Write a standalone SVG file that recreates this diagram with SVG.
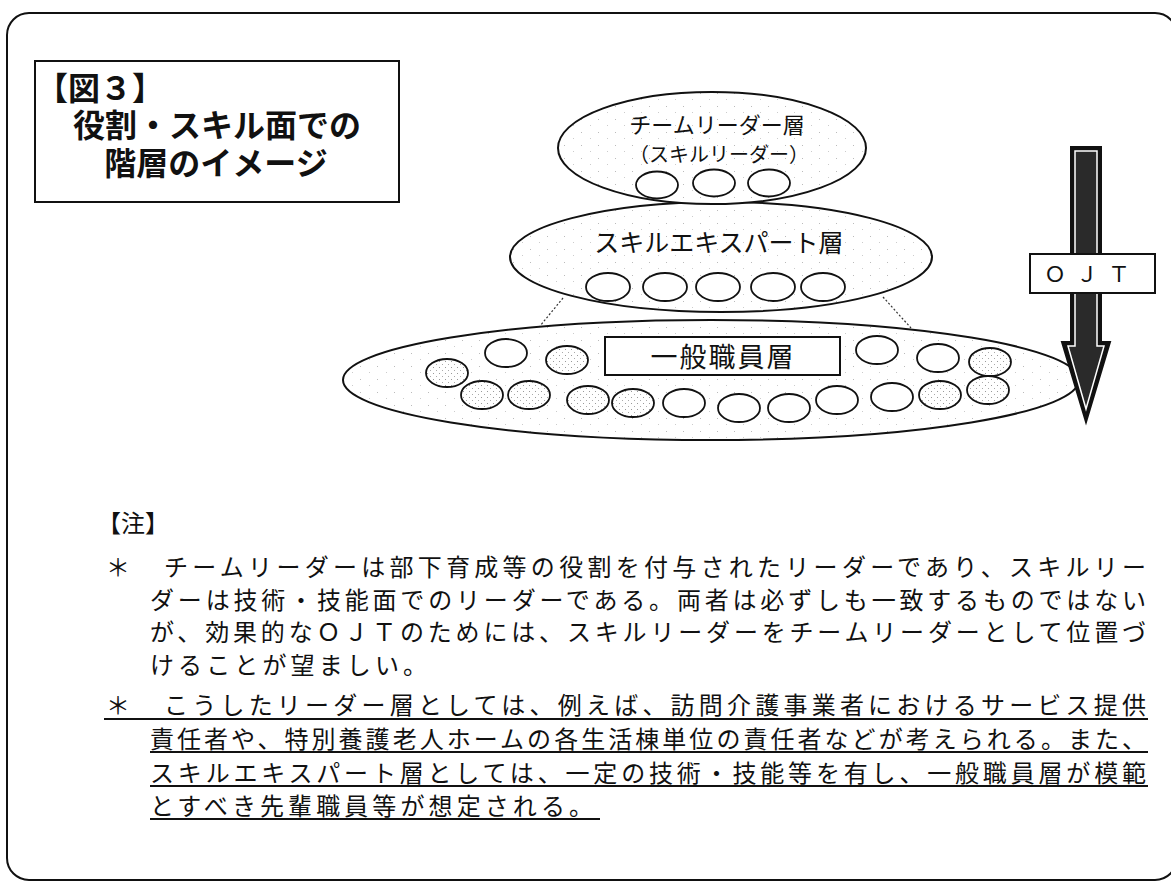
<svg xmlns="http://www.w3.org/2000/svg" width="1171" height="882" viewBox="0 0 1171 882">
<style>
  .jp { font-family: "Noto Sans CJK JP", "Noto Sans", sans-serif; fill: #111; }
  .title { font-size: 32px; font-weight: 700; }
  .note { font-size: 24px; }
  .big { fill: url(#light); stroke: #111; stroke-width: 2; }
  .c { fill: #fff; stroke: #111; stroke-width: 1.8; }
  .cs { fill: url(#stip); stroke: #111; stroke-width: 1.8; }
  .ul { stroke: #111; stroke-width: 2; }
  .dot { stroke: #333; stroke-width: 1.2; stroke-dasharray: 2 2; fill: none; }
</style>
<defs>
  <pattern id="light" width="17" height="13" patternUnits="userSpaceOnUse">
    <rect width="17" height="13" fill="#fff"/>
    <rect x="3" y="2" width="1" height="1" fill="#bbb"/>
    <rect x="12" y="8" width="1" height="1" fill="#ccc"/>
  </pattern>
  <pattern id="stip" width="6" height="6" patternUnits="userSpaceOnUse">
    <rect width="6" height="6" fill="#fff"/>
    <rect x="1" y="1" width="1" height="1" fill="#999"/>
    <rect x="4" y="4" width="1" height="1" fill="#aaa"/>
  </pattern>
</defs>
<rect width="1171" height="882" fill="#fff"/>

<g id="frame">
  <rect x="7" y="13" width="1170" height="867" rx="22" fill="none" stroke="#111" stroke-width="2"/>
</g>

<g id="title">
  <rect x="35" y="61" width="364" height="141" fill="#fff" stroke="#111" stroke-width="2"/>
  <text class="jp title" x="36" y="100">【図３】</text>
  <text class="jp title" x="217" y="137" text-anchor="middle">役割・スキル面での</text>
  <text class="jp title" x="216" y="175" text-anchor="middle">階層のイメージ</text>
</g>

<g id="tier-general">
  <ellipse class="big" cx="711" cy="380" rx="368" ry="60"/>
  <rect x="605" y="337" width="235" height="38" fill="#fff" stroke="#111" stroke-width="2"/>
  <text class="jp" x="723" y="367" font-size="27" text-anchor="middle" letter-spacing="2">一般職員層</text>
  <ellipse class="cs" cx="447" cy="373" rx="21" ry="14"/>
  <ellipse class="c" cx="506" cy="353" rx="21" ry="14"/>
  <ellipse class="cs" cx="567" cy="360" rx="21" ry="14"/>
  <ellipse class="c" cx="877" cy="350" rx="21" ry="14"/>
  <ellipse class="c" cx="938" cy="358" rx="21" ry="14"/>
  <ellipse class="cs" cx="990" cy="362" rx="21" ry="14"/>
  <ellipse class="cs" cx="482" cy="395" rx="21" ry="14"/>
  <ellipse class="cs" cx="529" cy="395" rx="21" ry="14"/>
  <ellipse class="cs" cx="588" cy="400" rx="21" ry="14"/>
  <ellipse class="cs" cx="633" cy="403" rx="21" ry="14"/>
  <ellipse class="c" cx="684" cy="403" rx="21" ry="14"/>
  <ellipse class="c" cx="739" cy="408" rx="21" ry="14"/>
  <ellipse class="c" cx="789" cy="408" rx="21" ry="14"/>
  <ellipse class="c" cx="837" cy="400" rx="21" ry="14"/>
  <ellipse class="c" cx="892" cy="397" rx="21" ry="14"/>
  <ellipse class="cs" cx="940" cy="395" rx="21" ry="14"/>
  <ellipse class="cs" cx="988" cy="390" rx="21" ry="14"/>
</g>

<g id="connectors">
  <line class="dot" x1="563" y1="298" x2="540" y2="326"/>
  <line class="dot" x1="883" y1="297" x2="911" y2="328"/>
</g>

<g id="tier-expert">
  <ellipse class="big" cx="721" cy="257" rx="211" ry="55"/>
  <text class="jp" x="719" y="252" font-size="25" text-anchor="middle">スキルエキスパート層</text>
  <ellipse class="c" cx="608" cy="287" rx="22" ry="14"/>
  <ellipse class="c" cx="665" cy="287" rx="22" ry="14"/>
  <ellipse class="c" cx="718" cy="287" rx="22" ry="14"/>
  <ellipse class="c" cx="773" cy="287" rx="22" ry="14"/>
  <ellipse class="c" cx="823" cy="287" rx="22" ry="14"/>
</g>

<g id="tier-leader">
  <ellipse class="big" cx="712" cy="148" rx="154" ry="56"/>
  <text class="jp" x="717" y="133" font-size="22" text-anchor="middle">チームリーダー層</text>
  <text class="jp" x="719" y="162" font-size="20" text-anchor="middle">（スキルリーダー）</text>
  <ellipse class="c" cx="657" cy="185" rx="21" ry="13.5"/>
  <ellipse class="c" cx="714" cy="183" rx="21" ry="13.5"/>
  <ellipse class="c" cx="769" cy="183" rx="21" ry="13.5"/>
</g>

<g id="ojt-arrow">
  <path d="M1071,147 L1101,147 L1101,342 L1110,342 L1086,422 L1062,342 L1071,342 Z" fill="#111" stroke="#111" stroke-width="2"/>
  <path d="M1075,151 L1097,151 L1097,346 L1104,346 L1086,409 L1068,346 L1075,346 Z" fill="#2a2a2a" stroke="#fff" stroke-width="1.5"/>
  <rect x="1030" y="254" width="125" height="39" fill="#fff" stroke="#111" stroke-width="2"/>
  <text class="jp" x="1092" y="282" font-size="22" text-anchor="middle" letter-spacing="10">ＯＪＴ</text>
</g>

<g id="notes">
  <text class="jp note" x="97" y="532" font-size="22">【注】</text>
  <text class="jp note" x="106" y="576">＊</text>
  <text class="jp note" x="164" y="576" textLength="982" lengthAdjust="spacing">チームリーダーは部下育成等の役割を付与されたリーダーであり、スキルリー</text>
  <text class="jp note" x="150" y="609" textLength="996" lengthAdjust="spacing">ダーは技術・技能面でのリーダーである。両者は必ずしも一致するものではない</text>
  <text class="jp note" x="150" y="641" textLength="996" lengthAdjust="spacing">が、効果的なＯＪＴのためには、スキルリーダーをチームリーダーとして位置づ</text>
  <text class="jp note" x="150" y="674" textLength="277" lengthAdjust="spacing">けることが望ましい。</text>
  <text class="jp note" x="106" y="714">＊</text>
  <text class="jp note" x="164" y="714" textLength="982" lengthAdjust="spacing">こうしたリーダー層としては、例えば、訪問介護事業者におけるサービス提供</text>
  <text class="jp note" x="150" y="748" textLength="996" lengthAdjust="spacing">責任者や、特別養護老人ホームの各生活棟単位の責任者などが考えられる。また、</text>
  <text class="jp note" x="150" y="782" textLength="996" lengthAdjust="spacing">スキルエキスパート層としては、一定の技術・技能等を有し、一般職員層が模範</text>
  <text class="jp note" x="150" y="815" textLength="443" lengthAdjust="spacing">とすべき先輩職員等が想定される。</text>
  <line class="ul" x1="104" y1="719" x2="1148" y2="719"/>
  <line class="ul" x1="150" y1="752" x2="1148" y2="752"/>
  <line class="ul" x1="150" y1="786" x2="1148" y2="786"/>
  <line class="ul" x1="150" y1="819" x2="600" y2="819"/>
</g>
</svg>
